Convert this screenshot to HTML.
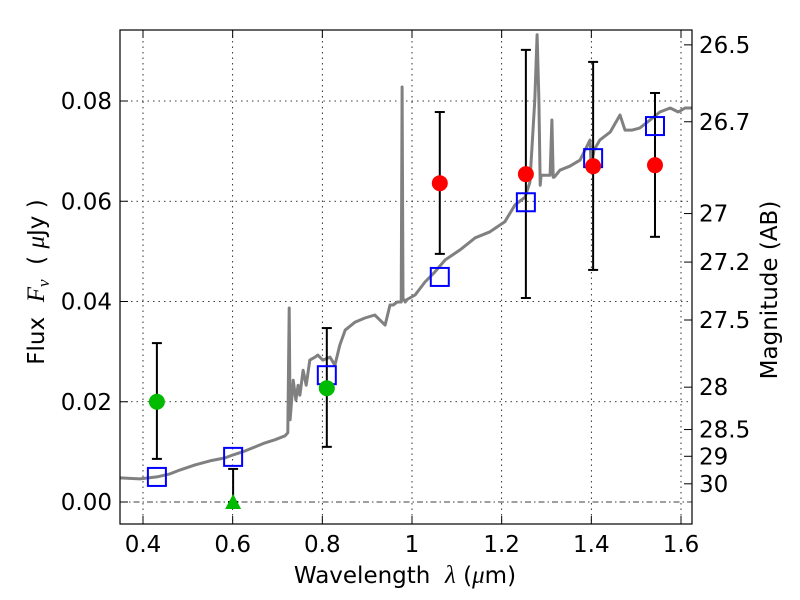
<!DOCTYPE html>
<html><head><meta charset="utf-8"><style>
body{margin:0;background:#fff}
svg{display:block;font-family:"DejaVu Sans","Liberation Sans",sans-serif}
.m{font-family:"Liberation Serif","DejaVu Serif",serif;font-style:italic}
</style></head><body>
<svg id="chart" width="800" height="600" viewBox="0 0 800 600" xmlns="http://www.w3.org/2000/svg">
<rect width="800" height="600" fill="#fff"/>
<g id="grid"></g>
<g id="spec"></g>
<g id="marks"></g>
<rect x="120" y="30" width="572" height="494" fill="none" stroke="#000" stroke-width="1.2"/>
<g id="ticks" font-size="23"></g>
<text x="405" y="583" font-size="23" text-anchor="middle" xml:space="preserve">Wavelength  <tspan class="m" font-size="25">λ</tspan> (<tspan class="m" font-size="25">μ</tspan>m)</text>
<text transform="translate(44,282) rotate(-90)" font-size="23" text-anchor="middle" xml:space="preserve">Flux  <tspan class="m" font-size="25">F</tspan><tspan class="m" font-size="17" dy="5">ν</tspan><tspan dy="-5">  ( </tspan><tspan class="m" font-size="25">μ</tspan>Jy )</text>
<text transform="translate(777,290) rotate(-90)" font-size="23" text-anchor="middle">Magnitude (AB)</text>
</svg>
<script>
const specWave=[0.349,0.393,0.431,0.460,0.483,0.516,0.549,0.583,0.601,0.628,0.650,0.672,0.694,0.717,0.723,0.726,0.728,0.730,0.735,0.741,0.746,0.750,0.757,0.764,0.772,0.784,0.790,0.801,0.817,0.828,0.839,0.851,0.873,0.895,0.917,0.940,0.951,0.958,0.967,0.976,0.978,0.980,0.983,0.985,0.987,1.007,1.029,1.051,1.074,1.107,1.141,1.174,1.207,1.230,1.252,1.263,1.274,1.279,1.283,1.286,1.288,1.292,1.297,1.308,1.312,1.315,1.317,1.321,1.330,1.352,1.375,1.397,1.399,1.402,1.406,1.419,1.442,1.464,1.475,1.491,1.508,1.531,1.553,1.576,1.594,1.609,1.625];
const specFlux=[0.0048,0.0046,0.0050,0.0056,0.0064,0.0074,0.0082,0.0088,0.0094,0.0102,0.0110,0.0118,0.0124,0.0132,0.0138,0.0387,0.0164,0.0184,0.0243,0.0203,0.0233,0.0213,0.0263,0.0233,0.0283,0.0289,0.0293,0.0283,0.0289,0.0273,0.0313,0.0343,0.0359,0.0367,0.0373,0.0353,0.0393,0.0393,0.0399,0.0399,0.0828,0.0403,0.0403,0.0399,0.0403,0.0413,0.0439,0.0459,0.0483,0.0503,0.0527,0.0539,0.0559,0.0593,0.0608,0.0638,0.0802,0.0932,0.0802,0.0632,0.0652,0.0652,0.0652,0.0652,0.0762,0.0648,0.0648,0.0652,0.0662,0.0670,0.0682,0.0722,0.0682,0.0682,0.0702,0.0722,0.0738,0.0772,0.0742,0.0742,0.0746,0.0762,0.0778,0.0786,0.0778,0.0786,0.0786];
const modelWave=[0.431,0.601,0.810,1.062,1.254,1.404,1.542];
const modelFlux=[0.0050,0.0090,0.0253,0.0449,0.0598,0.0686,0.0750];
const greenWave=[0.431,0.810];
const greenFlux=[0.0200,0.0227];
const greenLo=[0.0086,0.0110];
const greenHi=[0.0317,0.0347];
const limitWave=[0.601];
const limitFlux=[0.0];
const limitHi=[0.0066];
const redWave=[1.062,1.254,1.404,1.542];
const redFlux=[0.0636,0.0654,0.0670,0.0672];
const redLo=[0.0495,0.0407,0.0463,0.0529];
const redHi=[0.0778,0.0902,0.0878,0.0816];
const xTicks=[0.4,0.6,0.8,1.0,1.2,1.4,1.6];
const xTickLabels=["0.4","0.6","0.8","1","1.2","1.4","1.6"];
const yTicks=[0,0.02,0.04,0.06,0.08];
const yTickLabels=["0.00","0.02","0.04","0.06","0.08"];
const magTicks=[26.5,26.7,27,27.2,27.5,28,28.5,29,30];
const magTickLabels=["26.5","26.7","27","27.2","27.5","28","28.5","29","30"];

const NS="http://www.w3.org/2000/svg";
const X=v=>143+(v-0.4)*448.33;
const Y=v=>502-v*5012.5;
const magToFlux=m=>Math.pow(10,(23.9-m)/2.5);
function mk(tag,attrs,parent){const e=document.createElementNS(NS,tag);for(const k in attrs)e.setAttribute(k,attrs[k]);parent.appendChild(e);return e;}
const grid=document.getElementById('grid'),spec=document.getElementById('spec'),marks=document.getElementById('marks'),ticks=document.getElementById('ticks');

xTicks.forEach((t,i)=>{
  const g=mk('line',{x1:X(t),x2:X(t),y1:30,y2:524,stroke:'#000','stroke-width':0.8,'stroke-dasharray':'1.5,4'},grid);
  
  
  mk('line',{x1:X(t),x2:X(t),y1:524,y2:516,stroke:'#000'},ticks);
  mk('line',{x1:X(t),x2:X(t),y1:30,y2:38,stroke:'#000'},ticks);
  const l=mk('text',{x:X(t),y:552,'text-anchor':'middle'},ticks);
  l.textContent=xTickLabels[i];
  
  
});
yTicks.forEach((t,i)=>{
  const g=mk('line',{x1:120,x2:692,y1:Y(t),y2:Y(t),stroke:'#000','stroke-width':0.8,'stroke-dasharray':t===0?'6,3,1.5,3':'1.5,4'},grid);
  
  
  mk('line',{x1:120,x2:128,y1:Y(t),y2:Y(t),stroke:'#000'},ticks);
  const l=mk('text',{x:112,y:Y(t)+8,'text-anchor':'end'},ticks);
  l.textContent=yTickLabels[i];
  
  
});
magTicks.forEach((m,i)=>{
  const y=Y(magToFlux(m));
  mk('line',{x1:692,x2:684,y1:y,y2:y,stroke:'#000'},ticks);
  const l=mk('text',{x:699,y:y+8,'text-anchor':'start'},ticks);
  l.textContent=magTickLabels[i];
  
  
});

const d=specWave.map((w,i)=>(i?'L':'M')+X(w).toFixed(1)+','+Y(specFlux[i]).toFixed(1)).join('');
const sp=mk('path',{d:d,fill:'none',stroke:'#808080','stroke-width':3,'stroke-linejoin':'round'},spec);



function errbar(w,lo,hi){
  const x=X(w);
  mk('line',{x1:x,x2:x,y1:Y(lo),y2:Y(hi),stroke:'#000','stroke-width':2},marks);
  mk('line',{x1:x-5,x2:x+5,y1:Y(lo),y2:Y(lo),stroke:'#000','stroke-width':2},marks);
  mk('line',{x1:x-5,x2:x+5,y1:Y(hi),y2:Y(hi),stroke:'#000','stroke-width':2},marks);
}
greenWave.forEach((w,i)=>errbar(w,greenLo[i],greenHi[i]));
limitWave.forEach((w,i)=>errbar(w,limitFlux[i],limitHi[i]));
redWave.forEach((w,i)=>errbar(w,redLo[i],redHi[i]));
modelWave.forEach((w,i)=>{
  const r=mk('rect',{x:X(w)-9,y:Y(modelFlux[i])-9,width:18,height:18,fill:'none',stroke:'#0000ff','stroke-width':2},marks);
  
  
});
greenWave.forEach((w,i)=>{
  const c=mk('circle',{cx:X(w),cy:Y(greenFlux[i]),r:8,fill:'#00bb00'},marks);
  
  
});
limitWave.forEach((w,i)=>{
  const x=X(w),y=Y(limitFlux[i]);
  const t=mk('polygon',{points:`${x},${y-8} ${x-8},${y+7} ${x+8},${y+7}`,fill:'#00bb00'},marks);
  
  
});
redWave.forEach((w,i)=>{
  const c=mk('circle',{cx:X(w),cy:Y(redFlux[i]),r:8,fill:'#ff0000'},marks);
  
  
});
</script>
</body></html>
